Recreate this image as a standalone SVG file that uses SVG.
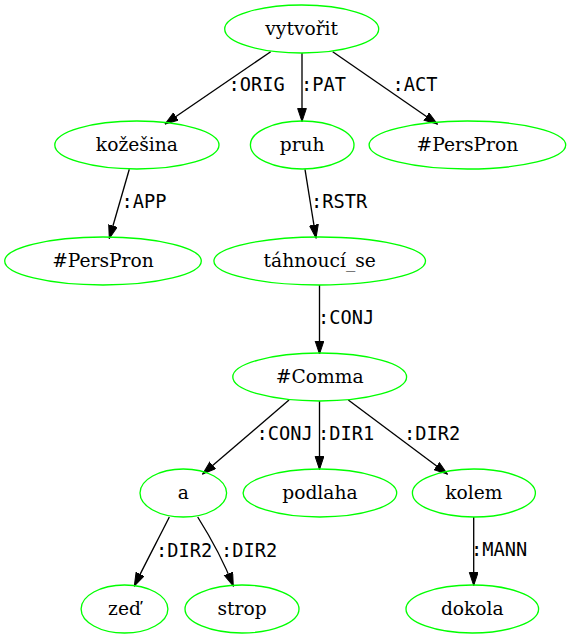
<svg xmlns="http://www.w3.org/2000/svg" width="571" height="639" viewBox="0 0 571 639">
  <style>
    .node ellipse { fill: none; stroke: #00ff00; stroke-width: 1.33; }
    .node text { font-family: "DejaVu Serif", serif; font-size: 18.67px; text-anchor: middle; fill: #000; }
    .edges path { fill: none; stroke: #000; stroke-width: 1.33; marker-end: url(#arrow); }
    .edges text { font-family: "DejaVu Sans Mono", monospace; font-size: 18.67px; fill: #000; }
  </style>
  <defs>
    <marker id="arrow" markerUnits="userSpaceOnUse" viewBox="0 0 14 10" markerWidth="14" markerHeight="10" refX="13.33" refY="4.67" orient="auto">
      <path d="M0.3,0.3 L13.33,4.67 L0.3,9.04 Z" fill="#000" stroke="#000" stroke-width="1"/>
    </marker>
  </defs>

  <!-- connectors with their functor labels -->
  <g class="edges" id="edges">
    <path d="M270.7,51.7 L165,124"/>
    <text x="228.5" y="91">:ORIG</text>
    <path d="M302,53 L302,121.5"/>
    <text x="301" y="91">:PAT</text>
    <path d="M332.7,51.7 L437.3,124"/>
    <text x="392.5" y="91">:ACT</text>
    <path d="M129.3,169.3 L109.3,238.5"/>
    <text x="121.5" y="208">:APP</text>
    <path d="M305,169.3 L316,238"/>
    <text x="311" y="208">:RSTR</text>
    <path d="M319.5,285 L319.5,354"/>
    <text x="318" y="323.5">:CONJ</text>
    <path d="M289,400 L202.7,474"/>
    <text x="256.5" y="440">:CONJ</text>
    <path d="M319.5,401 L319.5,469.5"/>
    <text x="318" y="440">:DIR1</text>
    <path d="M348.3,400 L447.3,474"/>
    <text x="404" y="440">:DIR2</text>
    <path d="M473.7,517 L473.7,585.5"/>
    <text x="471" y="556">:MANN</text>
    <path d="M169.3,517 C162,532 146,562 134.3,586"/>
    <text x="156" y="556.5">:DIR2</text>
    <path d="M197.7,517 C209,535 222,557 233.3,586"/>
    <text x="221" y="556.5">:DIR2</text>
  </g>

  <g class="node" id="n_vytvorit">
    <ellipse cx="301.7" cy="29" rx="77" ry="24"/>
    <text x="301.7" y="34.5">vytvořit</text>
  </g>
  <g class="node" id="n_kozesina">
    <ellipse cx="136.9" cy="145" rx="82.1" ry="24"/>
    <text x="136.9" y="150.5">kožešina</text>
  </g>
  <g class="node" id="n_pruh">
    <ellipse cx="302.2" cy="145" rx="51.8" ry="24"/>
    <text x="302.2" y="150.5">pruh</text>
  </g>
  <g class="node" id="n_perspron_act">
    <ellipse cx="467.4" cy="145" rx="98.3" ry="24"/>
    <text x="467.4" y="150.5">#PersPron</text>
  </g>
  <g class="node" id="n_perspron_app">
    <ellipse cx="103" cy="261" rx="98.3" ry="24"/>
    <text x="103" y="266.5">#PersPron</text>
  </g>
  <g class="node" id="n_tahnouci_se">
    <ellipse cx="319.7" cy="261" rx="105.8" ry="24"/>
    <text x="319.7" y="266.5">táhnoucí_se</text>
  </g>
  <g class="node" id="n_comma">
    <ellipse cx="319.7" cy="377" rx="86.9" ry="24"/>
    <text x="319.7" y="382.5">#Comma</text>
  </g>
  <g class="node" id="n_a">
    <ellipse cx="183.3" cy="493" rx="43.3" ry="24"/>
    <text x="183.3" y="498.5">a</text>
  </g>
  <g class="node" id="n_podlaha">
    <ellipse cx="319.9" cy="493" rx="76.8" ry="24"/>
    <text x="319.9" y="498.5">podlaha</text>
  </g>
  <g class="node" id="n_kolem">
    <ellipse cx="473.9" cy="493" rx="61.5" ry="24"/>
    <text x="473.9" y="498.5">kolem</text>
  </g>
  <g class="node" id="n_zed">
    <ellipse cx="124.5" cy="609" rx="43.4" ry="24"/>
    <text x="124.5" y="614.5">zeď</text>
  </g>
  <g class="node" id="n_strop">
    <ellipse cx="242" cy="609" rx="57" ry="24"/>
    <text x="242" y="614.5">strop</text>
  </g>
  <g class="node" id="n_dokola">
    <ellipse cx="472.3" cy="609" rx="66.3" ry="24"/>
    <text x="472.3" y="614.5">dokola</text>
  </g>
</svg>
